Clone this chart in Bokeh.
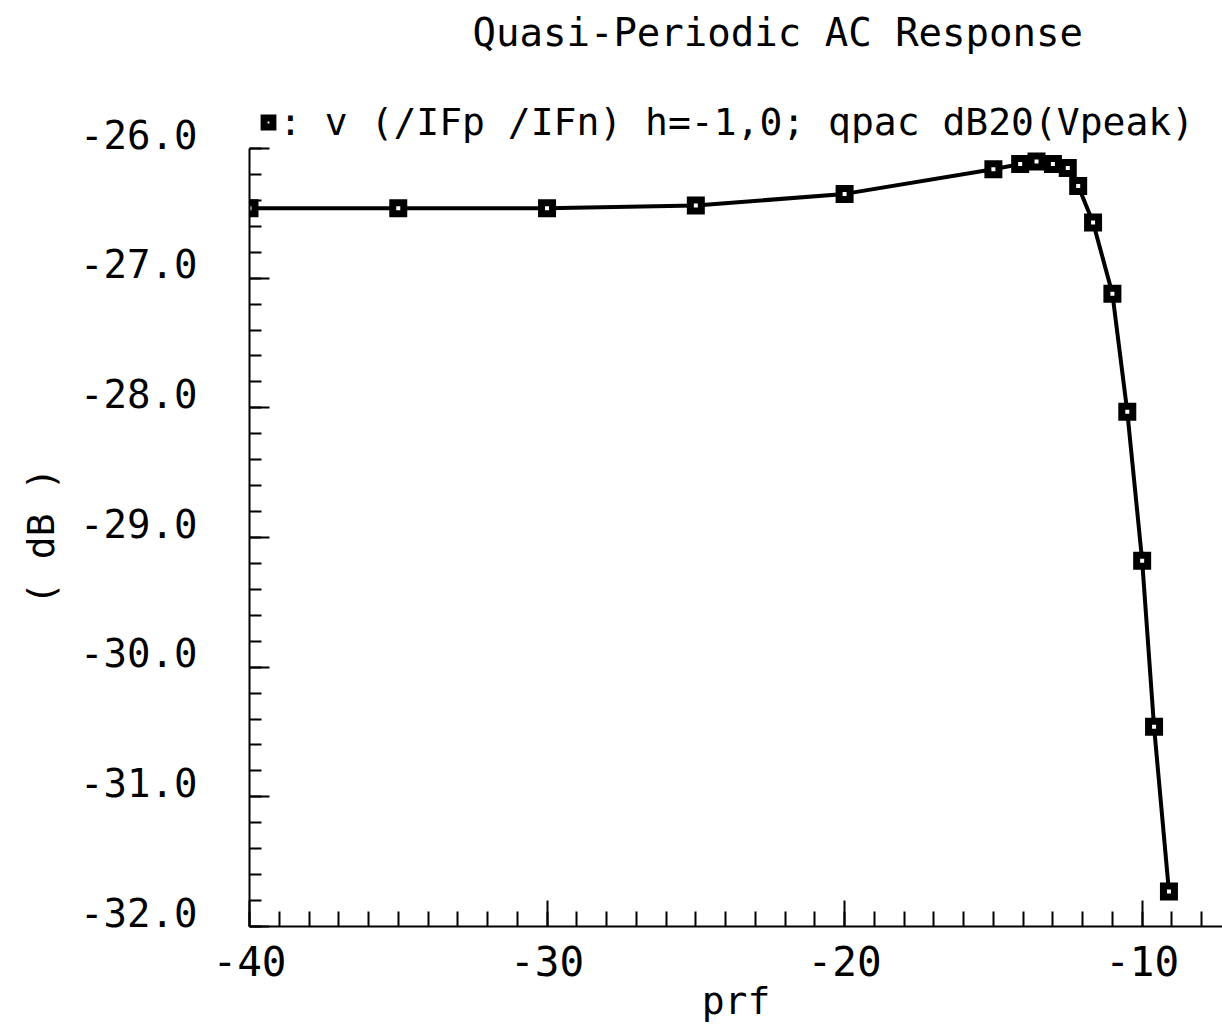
from bokeh.plotting import figure
from bokeh.models import ColumnDataSource, FixedTicker, Legend, LegendItem
from bokeh.embed import file_html
from bokeh.resources import INLINE

# ---- data ----
prf = [-40.0, -35.0, -30.0, -25.0, -20.0, -15.0, -14.1, -13.55, -13.0, -12.5,
       -12.15, -11.65, -11.0, -10.5, -10.0, -9.6, -9.1]
gain_db = [-26.46, -26.46, -26.46, -26.44, -26.35, -26.16, -26.12, -26.10, -26.12,
           -26.15, -26.29, -26.57, -27.12, -28.03, -29.18, -30.46, -31.73]

x_major = [-40, -30, -20, -10]
x_major_labels = ["-40", "-30", "-20", "-10"]
x_minor = list(range(-40, -7))
y_major = [-26, -27, -28, -29, -30, -31, -32]
y_major_labels = ["-26.0", "-27.0", "-28.0", "-29.0", "-30.0", "-31.0", "-32.0"]
y_minor = [round(-32 + 0.2 * i, 1) for i in range(31)]

title_text = "Quasi-Periodic AC Response"
legend_text = ": v (/IFp /IFn) h=-1,0; qpac dB20(Vpeak)"
x_label = "prf"
y_label = "( dB )"

FONT = "DejaVu Sans Mono"

p = figure(width=1222, height=1025, x_range=(-40.0, -7.3), y_range=(-32.0, -25.275),
           output_backend="svg", toolbar_location=None,
           min_border_left=249, min_border_right=0, min_border_top=54, min_border_bottom=99)

p.title.text = title_text
p.title.align = "left"
p.title.offset = 223
p.title.standoff = 0
p.title.text_font = FONT
p.title.text_font_size = "39px"
p.title.text_font_style = "normal"
p.title.text_color = "black"

p.outline_line_color = None
p.grid.visible = False
p.background_fill_color = "white"
p.border_fill_color = "white"

src = ColumnDataSource(dict(x=prf, y=gain_db))
p.line("x", "y", source=src, line_color="black", line_width=4)
pts = p.scatter("x", "y", source=src, marker="square", size=11, line_width=7,
                line_color="black", fill_color="white", line_join="miter")

legend = Legend(items=[LegendItem(label=legend_text, renderers=[pts])],
                location=(8, 782), padding=0, margin=0, spacing=0,
                glyph_width=22, glyph_height=22, label_standoff=0,
                label_text_font=FONT, label_text_font_size="38px",
                label_text_color="black",
                border_line_color=None, background_fill_alpha=0)
p.add_layout(legend)

xa = p.xaxis[0]
xa.ticker = FixedTicker(ticks=x_major, minor_ticks=x_minor)
xa.major_label_overrides = dict(zip(x_major, x_major_labels))
xa.axis_line_width = 2
xa.major_tick_in = 26
xa.major_tick_out = 0
xa.minor_tick_in = 15
xa.minor_tick_out = 0
xa.major_tick_line_width = 2
xa.minor_tick_line_width = 2
xa.major_label_standoff = 19
xa.major_label_text_font = FONT
xa.major_label_text_font_size = "41px"
xa.major_label_text_color = "black"
xa.axis_label = x_label
xa.axis_label_standoff = 0
xa.axis_label_text_font = FONT
xa.axis_label_text_font_size = "38px"
xa.axis_label_text_font_style = "normal"
xa.axis_label_text_color = "black"

ya = p.yaxis[0]
ya.bounds = (-32.0, -26.0)
ya.ticker = FixedTicker(ticks=y_major, minor_ticks=y_minor)
ya.major_label_overrides = {v: lbl + "\n" for v, lbl in zip(y_major, y_major_labels)}
ya.axis_line_width = 2
ya.major_tick_in = 20
ya.major_tick_out = 0
ya.minor_tick_in = 12
ya.minor_tick_out = 0
ya.major_tick_line_width = 2
ya.minor_tick_line_width = 2
ya.major_label_standoff = 52
ya.major_label_text_font = FONT
ya.major_label_text_font_size = "39px"
ya.major_label_text_color = "black"
ya.major_label_text_line_height = 0.6
ya.axis_label = y_label + "\u00a0" * 4
ya.axis_label_standoff = 14
ya.axis_label_text_font = FONT
ya.axis_label_text_font_size = "38px"
ya.axis_label_text_font_style = "normal"
ya.axis_label_text_color = "black"

open("out.html", "w").write(file_html(p, INLINE))
